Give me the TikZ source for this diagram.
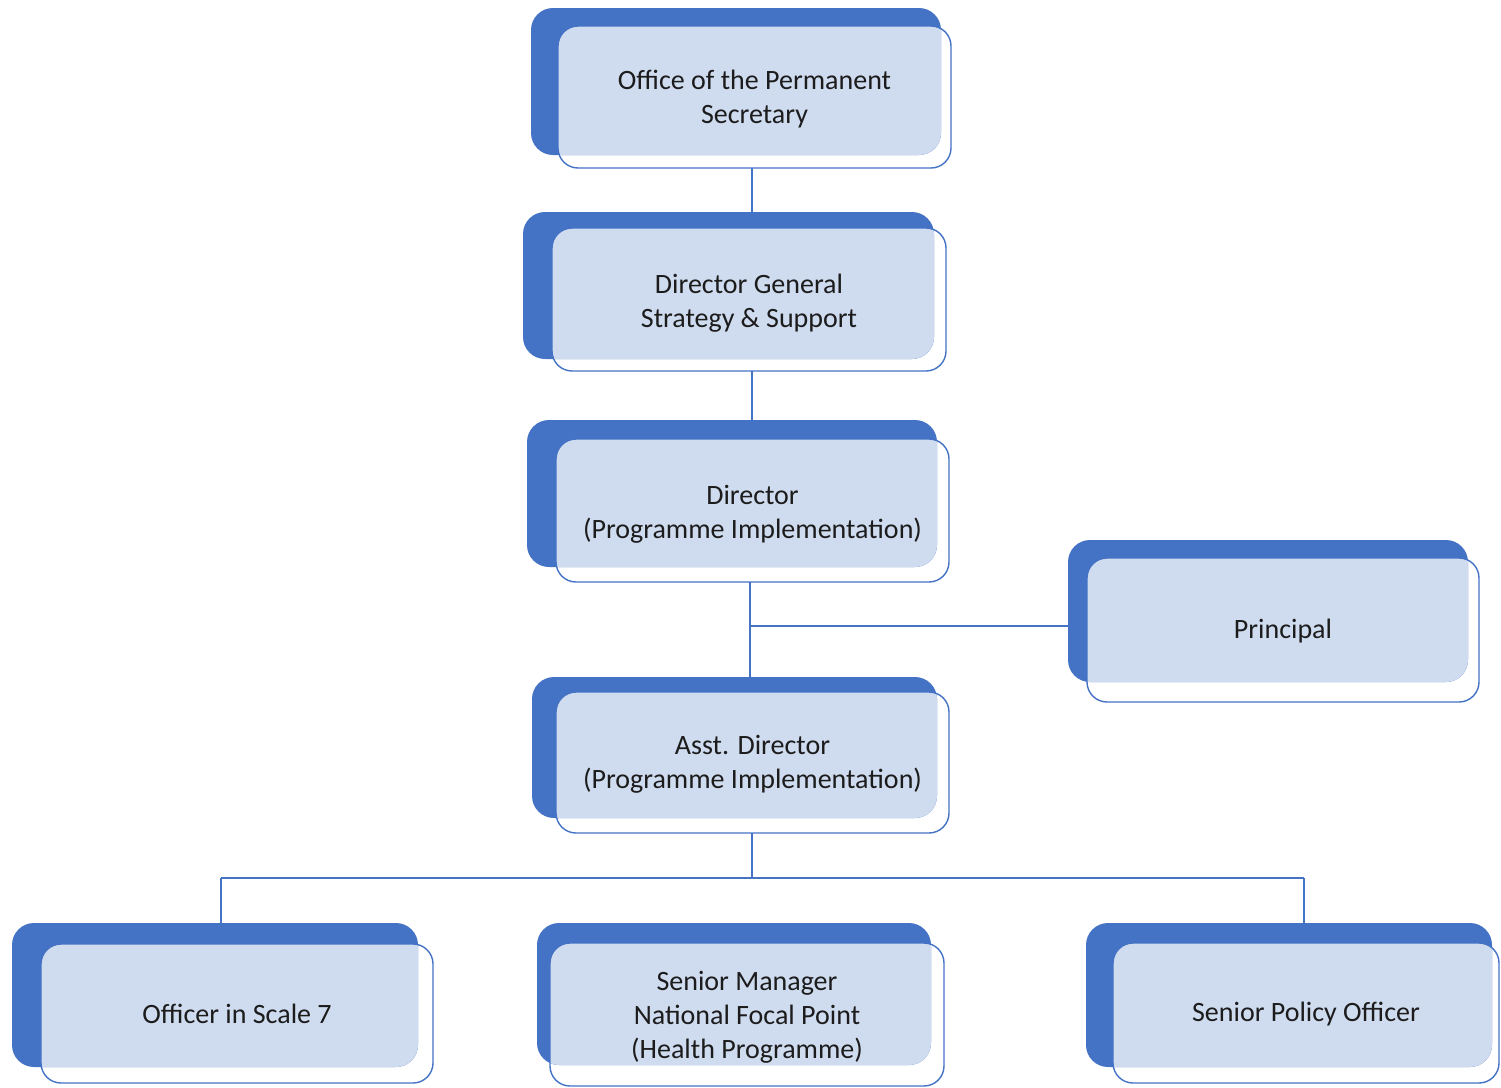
\documentclass[tikz,border=0pt]{standalone}
\usepackage{fontspec}
\setmainfont{Carlito}
\usetikzlibrary{fit}
\definecolor{dblue}{HTML}{4472C4}
\definecolor{lblue}{HTML}{CFDBEE}
\definecolor{txt}{HTML}{1C1C1C}
\tikzset{
  backbox/.style={draw=none, fill=dblue, rounded corners=22pt, inner sep=0pt, outer sep=0pt},
  frontbox/.style={draw=dblue, line width=1.4pt, rounded corners=20pt, inner sep=0pt, outer sep=0pt},
  boxtext/.style={inner sep=0pt, align=center, text=txt, font=\fontsize{28}{34}\selectfont, anchor=center},
  link/.style={draw=dblue, line width=1.5pt}
}
\newcommand\orgbox[7]{%
  \node[backbox, fit={#2 #3}] (#1b) {};
  \node[frontbox, fit={#4 #5},
    path picture={\fill[lblue, rounded corners=22pt] (#1b.south west) rectangle (#1b.north east);}] (#1) {};
  \node[boxtext, yshift=#7] (#1t) at (#1.center) {#6};
}
\begin{document}
\begin{tikzpicture}[x=1pt,y=-1pt]
\useasboundingbox (0,0) rectangle (1501,1087);
\coordinate (ta) at (752,0);
\coordinate (tb) at (750,0);
\coordinate (j1) at (750,626);
\coordinate (j2) at (752,878);
\coordinate (jl) at (221,878);
\coordinate (jr) at (1304,878);

\orgbox{n1}{(531,8)}{(941,155)}{(558,26)}{(951,168)}{Office of the Permanent\\Secretary}{-2.5pt}
\orgbox{n2}{(523,212)}{(934,359)}{(552,228)}{(946,371)}{Director General\\Strategy \& Support}{-4pt}
\orgbox{n3}{(527,420)}{(937,567)}{(556,439)}{(949,582)}{Director\\(Programme Implementation)}{-4pt}
\orgbox{pr}{(1068,540)}{(1468,682)}{(1087,558)}{(1479,702)}{Principal}{-1pt}
\orgbox{n4}{(532,677)}{(937,818)}{(556,692)}{(949,833)}{Asst. Director\\(Programme Implementation)}{-2pt}
\orgbox{o7}{(12,923)}{(418,1067)}{(41,944)}{(433,1083)}{Officer in Scale 7}{0pt}
\orgbox{sm}{(537,923)}{(931,1065)}{(550,943)}{(944,1086)}{Senior Manager\\National Focal Point\\(Health Programme)}{-3pt}
\orgbox{sp}{(1086,923)}{(1492,1067)}{(1113,943)}{(1499,1083)}{Senior Policy Officer}{-1pt}

\draw[link] (n1.south -| ta) -- (n2b.north -| ta);
\draw[link] (n2.south -| ta) -- (n3b.north -| ta);
\draw[link] (n3.south -| tb) -- (n4b.north -| tb);
\draw[link] (j1) -- (j1 -| prb.west);
\draw[link] (n4.south -| ta) -- (j2);
\draw[link] (jl) -- (jr);
\draw[link] (jl) -- (jl |- o7b.north);
\draw[link] (jr) -- (jr |- spb.north);
\end{tikzpicture}
\end{document}
